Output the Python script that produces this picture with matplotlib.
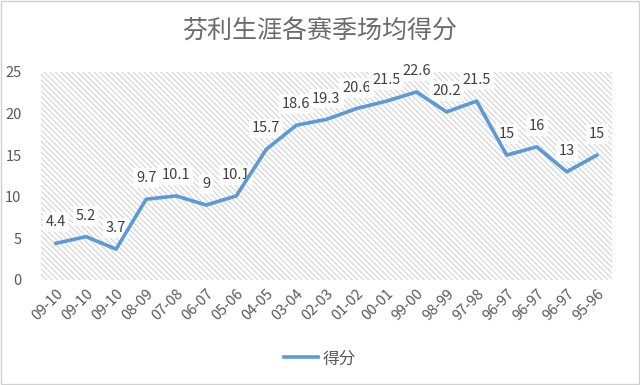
import matplotlib.pyplot as plt
from matplotlib.patches import Rectangle

plt.rcParams['font.family'] = ['Noto Sans CJK SC', 'DejaVu Sans']
plt.rcParams['hatch.linewidth'] = 0.6

seasons = ["09-10", "09-10", "09-10", "08-09", "07-08", "06-07", "05-06", "04-05",
           "03-04", "02-03", "01-02", "00-01", "99-00", "98-99", "97-98", "96-97",
           "96-97", "96-97", "95-96"]
points = [4.4, 5.2, 3.7, 9.7, 10.1, 9, 10.1, 15.7, 18.6, 19.3, 20.6, 21.5,
          22.6, 20.2, 21.5, 15, 16, 13, 15]
title = "芬利生涯各赛季场均得分"
series_name = "得分"

line_color = "#5B9BD5"
text_color = "#595959"

fig = plt.figure(figsize=(6.4, 3.85), dpi=100)
fig.patch.set_facecolor("white")
fig.patches.append(Rectangle((0.002, 0.003), 0.996, 0.994, transform=fig.transFigure,
                             fill=False, edgecolor="#d0d0d0", linewidth=1))
ax = fig.add_axes([0.064, 0.273, 0.892, 0.540])

# hatched plot area
bg = Rectangle((0, 0), 1, 1, transform=ax.transAxes, facecolor="white",
               edgecolor="#c8c8c8", hatch="\\\\\\\\\\\\", linewidth=0, zorder=0)
ax.add_patch(bg)
ax.patch.set_visible(False)

x = list(range(len(points)))
ax.plot(x, points, color=line_color, linewidth=2.6, label=series_name, zorder=3,
        solid_joinstyle="round")

for xi, v in zip(x, points):
    ax.annotate(f"{v:g}", (xi, v), xytext=(0, 10), textcoords="offset points",
                ha="center", va="bottom", fontsize=10.5, color="#404040",
                bbox=dict(boxstyle="square,pad=0.2", facecolor="white",
                          edgecolor="none", alpha=0.9), zorder=2)

ax.set_xlim(-0.5, len(points) - 0.5)
ax.set_ylim(0, 25)
ax.set_yticks([0, 5, 10, 15, 20, 25])
ax.set_xticks(x)
ax.set_xticklabels(seasons, rotation=45, ha="right", rotation_mode="anchor")
ax.tick_params(axis="both", length=0, labelsize=10.5, colors=text_color)
ax.tick_params(axis="y", pad=14)
ax.tick_params(axis="x", pad=5)
for s in ax.spines.values():
    s.set_visible(False)

fig.text(0.5, 0.918, title, ha="center", va="center", fontsize=18, color="#6b6b6b")

fig.legend(loc="center", bbox_to_anchor=(0.5, 0.068), frameon=False, fontsize=12,
           handlelength=2.0, handletextpad=0.3, labelcolor=text_color)

fig.savefig("out.png", dpi=100)
